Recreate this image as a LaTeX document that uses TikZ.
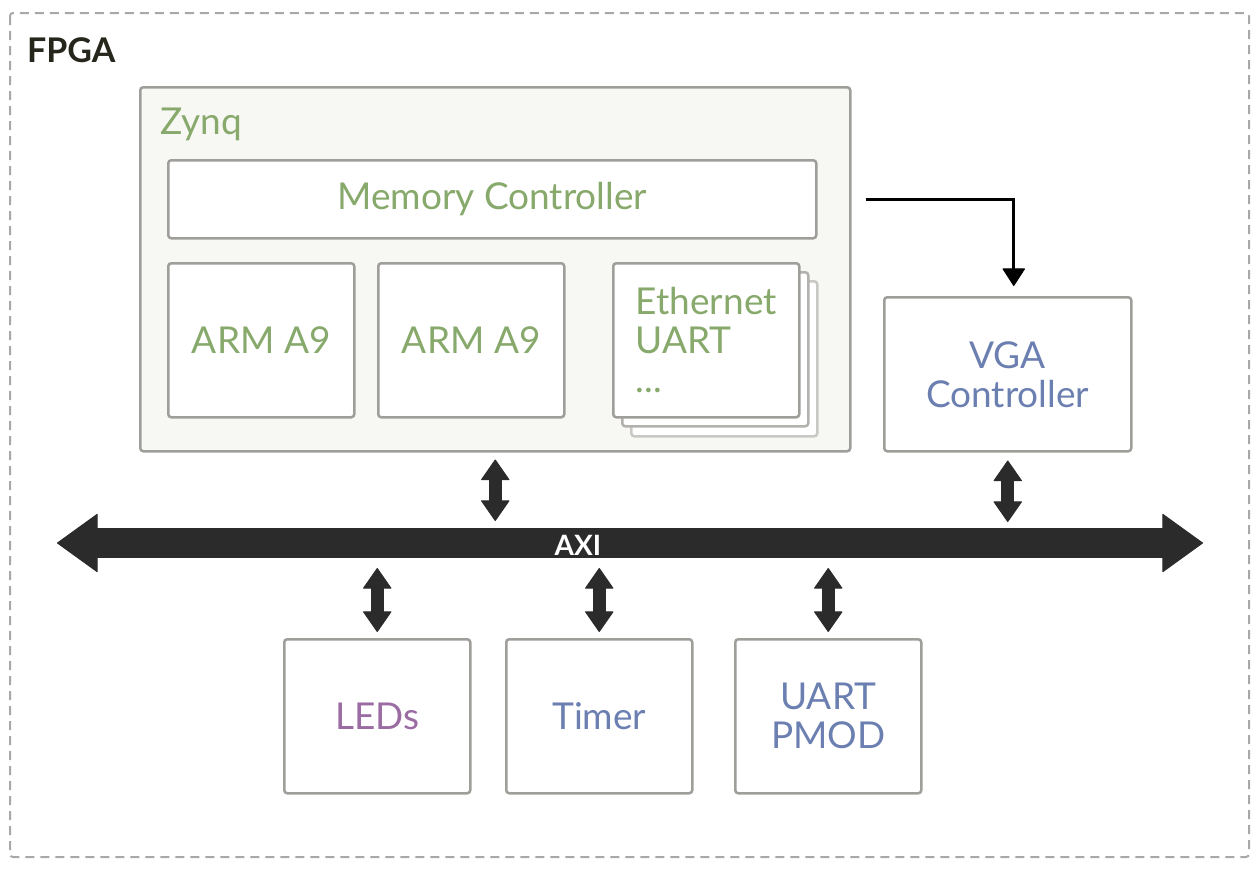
\documentclass[tikz,border=0pt]{standalone}
\usepackage{fontspec}
\setmainfont{Lato}
\usetikzlibrary{arrows.meta}
\definecolor{framegray}{HTML}{A8A8A6}
\definecolor{boxgray}{HTML}{A09E9A}
\definecolor{stackgray}{HTML}{C9C8C4}
\definecolor{zynqfill}{HTML}{F7F7F3}
\definecolor{zgreen}{HTML}{87A96B}
\definecolor{pblue}{HTML}{6B7FB1}
\definecolor{ppurple}{HTML}{9B6BA3}
\definecolor{busdark}{HTML}{2B2B2B}
\definecolor{titledark}{HTML}{26261C}

\begin{document}
\begin{tikzpicture}[x=1pt,y=-1pt,
  every node/.style={inner sep=0pt,font=\fontsize{37}{39}\selectfont},
  blk/.style={draw=boxgray,line width=2.5pt,rounded corners=3pt,fill=white,anchor=north west,minimum width=186pt,minimum height=154pt},
  stackblk/.style={blk,draw=stackgray},
  dbl/.style={draw=busdark,line width=13pt,{Triangle[length=21pt,width=29pt,line width=1pt,round]}-{Triangle[length=21pt,width=29pt,line width=1pt,round]}},
  axibus/.style={draw=busdark,line width=30pt,{Triangle[length=41pt,width=59pt,line width=1pt,round]}-{Triangle[length=41pt,width=59pt,line width=1pt,round]}}]
\useasboundingbox (0,0) rectangle (1258,868);
\draw[framegray,line width=2pt,dash pattern=on 9pt off 6pt,rounded corners=3pt] (10,13) rectangle (1249,857);
\node[anchor=base west,text=titledark,font=\fontsize{34}{36}\selectfont\bfseries] (fpga) at (27,62) {FPGA};

\node[blk,fill=zynqfill,minimum width=710pt,minimum height=364pt] (zynq) at (139,86) {};
\node[anchor=base west,text=zgreen] (zynqlbl) at (160,134) {Zynq};
\node[blk,minimum width=648pt,minimum height=78pt,text=zgreen] (mem) at (167,159) {Memory Controller};
\node[blk,text=zgreen] (arm1) at (167,262) {ARM A9};
\node[blk,text=zgreen] (arm2) at (377,262) {ARM A9};
\node[stackblk,minimum height=155pt] (eth3) at (630,280) {};
\node[stackblk,draw=boxgray!80] (eth2) at (621,271) {};
\node[blk,text=zgreen,align=left] (eth) at (612,262) {Ethernet\\UART\\...};

\node[blk,minimum width=247pt,text=pblue,align=center] (vga) at (883,296) {VGA\\Controller};
\coordinate (memout) at ([xshift=48pt]mem.east);
\draw[black,line width=3pt,-{Triangle[length=18pt,width=23pt,line width=1pt,round]},shorten >=10pt] (memout) -| ([xshift=6pt]vga.north);

\coordinate (axiL) at (57,543);
\coordinate (axiR) at (1203,543);
\draw[axibus] (axiL) -- (axiR);
\node[text=white,font=\fontsize{28}{30}\selectfont\bfseries] (axi) at (578,545) {AXI};

\node[blk,text=ppurple] (leds) at (283,638) {LEDs};
\node[blk,text=pblue] (timer) at (505,638) {Timer};
\node[blk,text=pblue,align=center] (pmod) at (734,638) {UART\\PMOD};

\draw[dbl,shorten <=7pt,shorten >=22pt] (zynq.south) -- (zynq.south |- axiL);
\draw[dbl,shorten <=8pt,shorten >=21pt] (vga.south) -- (vga.south |- axiL);
\draw[dbl,shorten <=25pt,shorten >=6pt] (leds.north |- axiL) -- (leds.north);
\draw[dbl,shorten <=25pt,shorten >=6pt] (timer.north |- axiL) -- (timer.north);
\draw[dbl,shorten <=25pt,shorten >=6pt] (pmod.north |- axiL) -- (pmod.north);
\end{tikzpicture}
\end{document}
